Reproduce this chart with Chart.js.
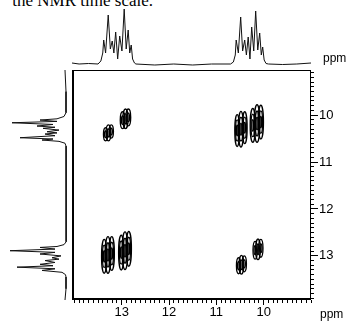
<!DOCTYPE html>
<html>
<head>
<meta charset="utf-8">
<script src="https://cdn.jsdelivr.net/npm/chart.js@4.4.1/dist/chart.umd.min.js"></script>
<style>
  html, body { margin: 0; padding: 0; background: #fff; }
  #wrap { position: relative; width: 349px; height: 328px; overflow: hidden; background: #fff; }
  #wrap canvas { position: absolute; left: 0; top: 0; }
  .lbl { position: absolute; font: 12px "Liberation Sans", Arial, sans-serif; color: #000; line-height: 14px; }
  #caption { position: absolute; top: -8px; right: 196px; white-space: nowrap;
             font: 17px/17px "Liberation Serif", "Times New Roman", serif; color: #000; }
</style>
</head>
<body>
<div id="wrap">
  <div id="caption">the NMR time scale.</div>
  <canvas id="main" width="349" height="328"></canvas>
  <canvas id="top" width="349" height="70"></canvas>
  <canvas id="side" width="72" height="328"></canvas>
  <span class="lbl" style="left:323px;top:51px">ppm</span>
  <span class="lbl" style="left:320px;top:307px">ppm</span>
</div>
<script>
// axes (ppm), both reversed like a normal NMR plot
const xTicks = [10, 11, 12, 13];
const yTicks = [10, 11, 12, 13];
const xRange = [9.0, 14.05];
const yRange = [9.04, 13.94];

// 2D cross peaks, one entry per multiplet component
const peakX = [13.34, 13.28, 13.22,  12.98, 12.92, 12.86,
               10.56, 10.48, 10.40,  10.23, 10.14, 10.06,
               13.37, 13.29, 13.21,  13.01, 12.93, 12.85,
               10.53, 10.47, 10.41,  10.18, 10.12, 10.06];
const peakY = [10.41, 10.38, 10.35,  10.11, 10.08, 10.05,
               10.33, 10.30, 10.27,  10.22, 10.18, 10.15,
               13.01, 12.98, 12.95,  12.93, 12.89, 12.85,
               13.21, 13.19, 13.17,  12.88, 12.86, 12.84];
const peakHalfW = [0.045, 0.05, 0.045,  0.05, 0.055, 0.05,
                   0.05, 0.055, 0.05,   0.055, 0.06, 0.055,
                   0.055, 0.06, 0.055,  0.055, 0.06, 0.055,
                   0.045, 0.05, 0.045,  0.045, 0.05, 0.045];
const peakHalfH = [0.14, 0.17, 0.14,  0.18, 0.21, 0.18,
                   0.34, 0.38, 0.34,  0.36, 0.40, 0.36,
                   0.36, 0.39, 0.36,  0.37, 0.40, 0.37,
                   0.17, 0.20, 0.17,  0.19, 0.22, 0.19];
const peakLevels = [2, 2, 2,  2, 2, 2,
                    3, 3, 3,  3, 3, 3,
                    3, 3, 3,  3, 3, 3,
                    2, 2, 2,  2, 2, 2];

// 1D projection on top (F2)
const topPpm = [14.05, 13.9, 13.7, 13.5, 13.44, 13.40, 13.38, 13.34, 13.285, 13.24, 13.20, 13.165, 13.127,
                13.085, 13.042, 12.995, 12.947, 12.905, 12.863, 12.83, 12.799, 12.77, 12.73, 12.70,
                12.3, 11.9, 11.5, 11.1, 10.70, 10.64, 10.60, 10.581, 10.535, 10.486, 10.445, 10.401,
                10.365, 10.327, 10.29, 10.253, 10.21, 10.169, 10.125, 10.084, 10.05, 10.021, 9.99,
                9.95, 9.90, 9.6, 9.3, 9.0];
const topInt = [2, 1, 1.5, 1, 4, 12, 25, 12, 50, 16, 24, 12, 33,
                6, 29, 14, 56, 16, 35, 12, 20, 6, 2, 1,
                0, 1, 0, 1, 1, 3, 10, 25, 12, 48, 14, 25,
                10, 28, 6, 38, 14, 54, 15, 32, 10, 18, 5,
                1.5, 1, 0.5, 1, 2];

// 1D projection on the left (F1)
const sidePpm = [9.04, 9.5, 9.95, 10.03, 10.08, 10.106, 10.135, 10.164, 10.20, 10.234, 10.26, 10.283,
                 10.32, 10.355, 10.38, 10.404, 10.44, 10.483, 10.51, 10.532, 10.56, 10.60, 10.66,
                 11.2, 11.8, 12.3, 12.70, 12.76, 12.80, 12.82, 12.855, 12.89, 12.925, 12.96, 13.00,
                 13.04, 13.07, 13.10, 13.14, 13.18, 13.21, 13.24, 13.275, 13.31, 13.35, 13.40,
                 13.45, 13.7, 13.94];
const sideInt = [2, 1, 1, 3, 10, 27, 10, 55, 14, 30, 12, 24,
                 8, 20, 10, 22, 12, 47, 14, 25, 8, 2, 1,
                 1, 0.5, 1, 1, 3, 10, 27, 12, 57, 12, 27, 6,
                 15, 8, 22, 12, 27, 14, 50, 12, 25, 5, 1.5,
                 1, 1, 2];

const axisFont = { family: 'Liberation Sans', size: 13 };

const contours = {
  id: 'contours',
  afterDatasetsDraw(chart) {
    const { ctx } = chart;
    const x = chart.scales.x, y = chart.scales.y;
    const meta = chart.getDatasetMeta(0);
    ctx.save();
    ctx.strokeStyle = '#000';
    ctx.lineWidth = 1.35;
    meta.data.forEach((pt, i) => {
      const rx = Math.abs(x.getPixelForValue(peakX[i] + peakHalfW[i]) - pt.x);
      const ry = Math.abs(y.getPixelForValue(peakY[i] + peakHalfH[i]) - pt.y);
      for (let k = 0; k < peakLevels[i]; k++) {
        const f = 1 - k / peakLevels[i];
        ctx.beginPath();
        ctx.ellipse(pt.x, pt.y, Math.max(rx * f, 0.6), ry * f, 0, 0, Math.PI * 2);
        ctx.stroke();
      }
    });
    ctx.restore();
  }
};

const frame = {
  id: 'frame',
  afterDraw(chart) {
    const { ctx, chartArea: a } = chart;
    ctx.save();
    ctx.strokeStyle = '#000';
    ctx.lineWidth = 1;
    ctx.strokeRect(a.left + 0.5, a.top + 0.5, a.right - a.left - 1, a.bottom - a.top - 1);
    ctx.lineWidth = 2;
    ctx.beginPath();
    ctx.moveTo(a.left + 1, a.top);
    ctx.lineTo(a.left + 1, a.bottom - 1);
    ctx.lineTo(a.right, a.bottom - 1);
    ctx.stroke();
    ctx.restore();
  }
};

function minorTicks(lo, hi) {
  const out = [];
  for (let v = Math.ceil(lo * 10); v <= Math.floor(hi * 10); v++) out.push({ value: v / 10 });
  return out;
}

new Chart(document.getElementById('main'), {
  type: 'scatter',
  data: {
    datasets: [{
      data: peakX.map((v, i) => ({ x: v, y: peakY[i] })),
      pointRadius: 0, pointHoverRadius: 0
    }]
  },
  options: {
    responsive: false, animation: false, events: [],
    layout: { padding: { left: 72, top: 70, right: 0, bottom: 0 } },
    plugins: { legend: { display: false }, tooltip: { enabled: false } },
    scales: {
      x: {
        type: 'linear', axis: 'x', position: 'bottom', reverse: true,
        min: xRange[0], max: xRange[1], weight: 1,
        afterBuildTicks: s => { s.ticks = xTicks.map(v => ({ value: v })); },
        afterFit: s => { s.height = 28; },
        grid: { drawOnChartArea: false, tickLength: 5, tickColor: '#000', tickWidth: 1 },
        border: { display: false },
        ticks: { color: '#000', font: axisFont, padding: 0, maxRotation: 0, autoSkip: false }
      },
      xMinor: {
        type: 'linear', axis: 'x', position: 'bottom', reverse: true,
        min: xRange[0], max: xRange[1], weight: 0,
        afterBuildTicks: s => { s.ticks = minorTicks(xRange[0], xRange[1]); },
        afterFit: s => { s.height = 0; },
        grid: { drawOnChartArea: false, tickLength: 3, tickColor: '#000', tickWidth: 1 },
        border: { display: false },
        ticks: { display: false }
      },
      y: {
        type: 'linear', axis: 'y', position: 'right', reverse: true,
        min: yRange[0], max: yRange[1], weight: 1,
        afterBuildTicks: s => { s.ticks = yTicks.map(v => ({ value: v })); },
        afterFit: s => { s.width = 38; },
        grid: { drawOnChartArea: false, tickLength: 7, tickColor: '#000', tickWidth: 1 },
        border: { display: false },
        ticks: { color: '#000', font: axisFont, padding: 1 }
      },
      yMinor: {
        type: 'linear', axis: 'y', position: 'right', reverse: true,
        min: yRange[0], max: yRange[1], weight: 0,
        afterBuildTicks: s => { s.ticks = minorTicks(yRange[0], yRange[1]); },
        afterFit: s => { s.width = 0; },
        grid: { drawOnChartArea: false, tickLength: 3, tickColor: '#000', tickWidth: 1 },
        border: { display: false },
        ticks: { display: false }
      }
    }
  },
  plugins: [contours, frame]
});

new Chart(document.getElementById('top'), {
  type: 'scatter',
  data: {
    datasets: [{
      data: topPpm.map((v, i) => ({ x: v, y: topInt[i] })),
      showLine: true, tension: 0, borderColor: '#111', borderWidth: 1,
      pointRadius: 0, pointHoverRadius: 0
    }]
  },
  options: {
    responsive: false, animation: false, events: [],
    layout: { padding: { left: 72, right: 38, top: 0, bottom: 0 } },
    plugins: { legend: { display: false }, tooltip: { enabled: false } },
    scales: {
      x: { type: 'linear', reverse: true, min: xRange[0], max: xRange[1], display: false },
      y: { type: 'linear', min: -5, max: 65, display: false }
    }
  }
});

new Chart(document.getElementById('side'), {
  type: 'scatter',
  data: {
    datasets: [{
      data: sidePpm.map((v, i) => ({ x: sideInt[i], y: v })),
      showLine: true, tension: 0, borderColor: '#111', borderWidth: 1,
      pointRadius: 0, pointHoverRadius: 0
    }]
  },
  options: {
    responsive: false, animation: false, events: [],
    layout: { padding: { left: 0, right: 0, top: 70, bottom: 28 } },
    plugins: { legend: { display: false }, tooltip: { enabled: false } },
    scales: {
      x: { type: 'linear', reverse: true, min: -5, max: 67, display: false },
      y: { type: 'linear', reverse: true, min: yRange[0], max: yRange[1], display: false }
    }
  }
});
</script>
</body>
</html>
